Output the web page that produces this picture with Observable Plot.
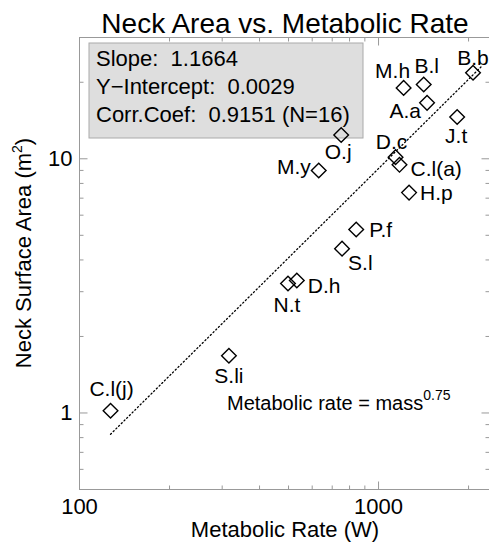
<!DOCTYPE html>
<html><head><meta charset="utf-8">
<script src="https://cdn.jsdelivr.net/npm/d3@7"></script>
<script src="https://cdn.jsdelivr.net/npm/@observablehq/plot@0.6"></script>
<style>body{margin:0;background:#fff}svg{display:block}</style>
</head><body><div id="chart"></div>
<script>
// ---- data ----
const names = ["C.l(j)","S.li","N.t","D.h","S.l","P.f","M.y","O.j","D.c","C.l(a)","H.p","M.h","B.l","A.a","J.t","B.b"];
const rate  = [127, 316, 498, 533, 755, 842, 631, 750, 1140, 1175, 1265, 1213, 1416, 1453, 1832, 2070];
const area  = [1.02, 1.68, 3.23, 3.32, 4.43, 5.27, 8.99, 12.4, 10.15, 9.47, 7.36, 19.0, 19.6, 16.6, 14.6, 21.8];
const fitSlope = 1.1664;
const fitIntercept = 0.0029;
const corrCoef = 0.9151;
const fitRange = [127, 2200];
const xDomain = [100, 2350];
const yDomain = [0.5, 30];
const xMajor = [100, 1000];
const xMinor = [200, 300, 400, 500, 600, 700, 800, 900, 2000];
const yMajor = [1, 10];
const yMinor = [0.5, 0.6, 0.7, 0.8, 0.9, 2, 3, 4, 5, 6, 7, 8, 9, 20];
const titleText = "Neck Area vs. Metabolic Rate";
const xLabel = "Metabolic Rate (W)";
const yLabelMain = "Neck Surface Area (m";
const noteMain = "Metabolic rate = mass";
const noteExp = "0.75";

// ---- layout (label placement: dx, dy, anchor) ----
const labelPlace = {
  "C.l(j)": [1, -22, "middle"], "S.li": [0, 21, "middle"], "N.t": [-1, 22, "middle"],
  "D.h": [11, 6, "start"], "S.l": [6, 15, "start"], "P.f": [13, 1, "start"],
  "M.y": [-8, -3, "end"], "O.j": [-3, 17, "middle"], "D.c": [-4, -15, "middle"],
  "C.l(a)": [11, 4, "start"], "H.p": [11, 1, "start"], "M.h": [-11, -17, "middle"],
  "B.l": [3, -18, "middle"], "A.a": [-6, 8, "end"], "J.t": [-1, 19, "middle"], "B.b": [0, -14, "middle"]
};

const pts = names.map((n, i) => ({name: n, x: rate[i], y: area[i]}));
const fitPts = fitRange.map(x => ({x, y: fitIntercept * Math.pow(x, fitSlope)}));
const FONT = "Liberation Sans, Arial, sans-serif";
const AX = "#999";

// tick glyphs drawn as custom symbols (direction, length)
const tickSym = (dx, dy, L) => ({draw(ctx) { ctx.moveTo(0, 0); ctx.lineTo(dx * L, dy * L); }});
const tickMarks = [];
[[xMajor, 8], [xMinor, 4]].forEach(([arr, L]) => {
  tickMarks.push(Plot.dot(arr, {x: d => d, y: () => yDomain[0], symbol: tickSym(0, -1, L), stroke: AX, fill: "none", strokeWidth: 1}));
  tickMarks.push(Plot.dot(arr, {x: d => d, y: () => yDomain[1], symbol: tickSym(0, 1, L), stroke: AX, fill: "none", strokeWidth: 1}));
});
[[yMajor, 8], [yMinor, 4]].forEach(([arr, L]) => {
  tickMarks.push(Plot.dot(arr, {y: d => d, x: () => xDomain[0], symbol: tickSym(1, 0, L), stroke: AX, fill: "none", strokeWidth: 1}));
  tickMarks.push(Plot.dot(arr, {y: d => d, x: () => xDomain[1], symbol: tickSym(-1, 0, L), stroke: AX, fill: "none", strokeWidth: 1}));
});

const labelMarks = pts.map(p => {
  const [dx, dy, ta] = labelPlace[p.name];
  return Plot.text([p], {x: "x", y: "y", text: "name", dx, dy, textAnchor: ta, lineAnchor: "middle", fontSize: 21, fill: "black"});
});

const svg = Plot.plot({
  width: 489, height: 543,
  marginLeft: 79, marginRight: 0, marginTop: 37, marginBottom: 54,
  style: {fontFamily: FONT, background: "white"},
  x: {type: "log", domain: xDomain, axis: null},
  y: {type: "log", domain: yDomain, axis: null},
  marks: [
    ...tickMarks,
    Plot.frame({stroke: AX}),
    Plot.text(xMajor, {x: d => d, text: d => String(d), frameAnchor: "bottom", dy: 17, lineAnchor: "middle", fontSize: 22, fill: "black"}),
    Plot.text(yMajor, {y: d => d, text: d => String(d), frameAnchor: "left", dx: -7, textAnchor: "end", lineAnchor: "middle", fontSize: 22, fill: "black"}),
    Plot.line(fitPts, {x: "x", y: "y", stroke: "black", strokeWidth: 1.3, strokeDasharray: "1.2,2.6"}),
    Plot.dot(pts, {x: "x", y: "y", symbol: "diamond2", r: 6.6, stroke: "black", strokeWidth: 1.4, fill: "none"}),
    ...labelMarks
  ]
});

const s = d3.select(svg);
// stats box (behind the marks)
s.insert("rect", ":first-child").attr("x", 89).attr("y", 43).attr("width", 274).attr("height", 95)
  .attr("fill", "#dedede").attr("stroke", "#aaa");
const statLines = [
  `Slope:  ${fitSlope.toFixed(4)}`,
  `Y\u2212Intercept:  ${fitIntercept.toFixed(4)}`,
  `Corr.Coef:  ${corrCoef.toFixed(4)} (N=${names.length})`
];
statLines.forEach((t, i) => {
  s.append("text").attr("x", 96).attr("y", 66 + i * 28).attr("font-size", 22).attr("text-anchor", "start")
    .attr("font-family", FONT).attr("fill", "black").style("white-space", "pre").text(t);
});
// title
s.append("text").attr("x", 285).attr("y", 33).attr("text-anchor", "middle")
  .attr("font-size", 28).attr("font-family", FONT).attr("fill", "black").text(titleText);
// x label
s.append("text").attr("x", 285).attr("y", 537).attr("text-anchor", "middle")
  .attr("font-size", 22).attr("font-family", FONT).attr("fill", "black").text(xLabel);
// y label
const yl = s.append("text").attr("transform", "translate(31,253) rotate(-90)").attr("text-anchor", "middle")
  .attr("font-size", 22).attr("font-family", FONT).attr("fill", "black");
yl.append("tspan").text(yLabelMain);
yl.append("tspan").attr("font-size", 14).attr("dy", -9).text("2");
yl.append("tspan").attr("dy", 9).text(")");
// annotation
const note = s.append("text").attr("x", 227).attr("y", 410).attr("font-size", 20).attr("text-anchor", "start")
  .attr("font-family", FONT).attr("fill", "black");
note.append("tspan").text(noteMain);
note.append("tspan").attr("font-size", 14).attr("dy", -10).text(noteExp);

document.getElementById("chart").appendChild(svg);
</script>
</body></html>
